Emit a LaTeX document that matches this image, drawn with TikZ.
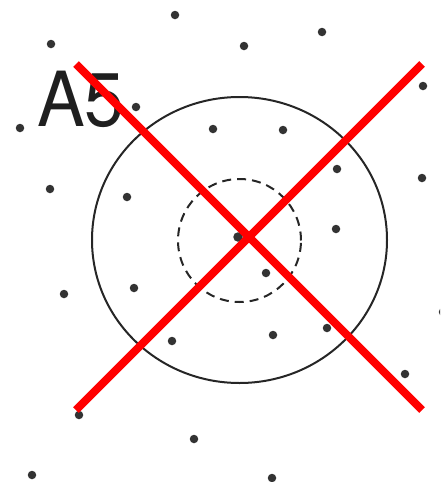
\documentclass[tikz,border=0pt]{standalone}
\usepackage{fontspec}
\setmainfont{TeX Gyre Heros}
\usetikzlibrary{shapes.geometric}
\begin{document}
\begin{tikzpicture}[x=1pt,y=-1pt,
  pt/.style={circle,fill=black!80,inner sep=0pt,minimum size=8.5pt},
  ring/.style={draw=black!85,line width=2pt},
  cross/.style={draw=red,line width=8pt,line cap=butt}]
\useasboundingbox (0,0) rectangle (440,482);
\clip (0,0) rectangle (440,482);
% circles
\node[ring,ellipse,minimum width=295pt,minimum height=286pt,inner sep=0pt] (big) at (239.5,240) {};
\node[ring,dashed,dash pattern=on 9pt off 6pt,circle,minimum size=123pt,inner sep=0pt] (small) at (239.5,240.5) {};
% dots
\foreach \n/\x/\y in {a/175/15, b/51/44, c/136/107, d/20/128, e/50/189, f/127/197, g/213/129,
  h/244/46, i/322/32, j/423/86, k/283/130, l/337/169, m/422/178, n/336/229,
  o/64/294, p/134/288, q/172/341, r/79/415, s/194/439, t/32/475,
  u/266/273, v/273/335, w/327/328, x/405/374, y/272/478, z/443/312}
  \node[pt] (\n) at (\x,\y) {};
\node[pt,minimum size=9.5pt] (ctr) at (238,237) {};
% label
\node[anchor=base west,inner sep=0pt,text=black!88,font=\fontsize{76}{76}\selectfont] (lbl) at (37,126) {\scalebox{0.94}[1]{A5}};
% red cross
\coordinate (tl) at (76,64);
\coordinate (br) at (422,410);
\coordinate (bl) at (76,410);
\coordinate (tr) at (422,64);
\draw[cross] (tl) -- (br);
\draw[cross] (bl) -- (tr);
\end{tikzpicture}
\end{document}
